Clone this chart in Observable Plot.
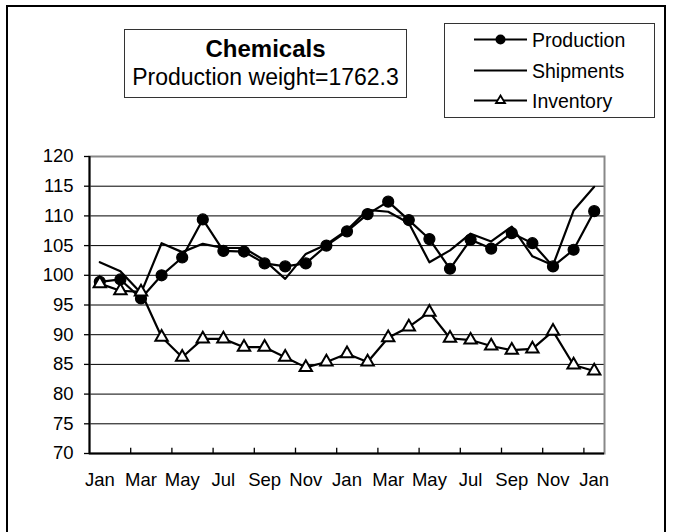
<!DOCTYPE html>
<html>
<head>
<meta charset="utf-8">
<script src="https://cdn.jsdelivr.net/npm/d3@7"></script>
<script src="https://cdn.jsdelivr.net/npm/@observablehq/plot@0.6"></script>
<style>
  body { margin: 0; background: #fff; }
  #wrap { position: relative; width: 675px; height: 532px; overflow: hidden; font-family: "Liberation Sans", Arial, sans-serif; }
  #outer { position: absolute; left: 6px; top: 5px; width: 660px; height: 560px; border: 2px solid #000; box-sizing: border-box; pointer-events: none; }
  #overlay { position: absolute; left: 0; top: 0; pointer-events: none; }
  #chart { position: absolute; left: 0; top: 0; }
</style>
</head>
<body>
<div id="wrap">
  <div id="chart"></div>
  <div id="outer"></div>
  <svg id="overlay" width="675" height="532" font-family="Liberation Sans, Arial, sans-serif">
    <rect x="124.5" y="29.5" width="282" height="68" fill="#fff" stroke="#333" stroke-width="1"></rect>
    <text x="265.5" y="57" text-anchor="middle" font-size="24" font-weight="bold">Chemicals</text>
    <text x="265.5" y="85" text-anchor="middle" font-size="23">Production weight=1762.3</text>
    <rect x="444.5" y="23.5" width="210" height="94" fill="#fff" stroke="#333" stroke-width="1"></rect>
    <line x1="474" x2="527" y1="39.5" y2="39.5" stroke="#000" stroke-width="2"></line>
    <circle cx="500.5" cy="39.5" r="5" fill="#000"></circle>
    <text x="532" y="46.5" font-size="19.5">Production</text>
    <line x1="474" x2="527" y1="70.5" y2="70.5" stroke="#000" stroke-width="2"></line>
    <text x="532" y="78" font-size="19.5">Shipments</text>
    <line x1="474" x2="527" y1="100.5" y2="100.5" stroke="#000" stroke-width="2"></line>
    <path d="M500.5,95.5 L505,103 L496,103 Z" fill="#fff" stroke="#000" stroke-width="1.8"></path>
    <text x="532" y="107.5" font-size="19.5">Inventory</text>
  </svg>
</div>
<script>
const months = ["Jan","Feb","Mar","Apr","May","Jun","Jul","Aug","Sep","Oct","Nov","Dec",
                "Jan","Feb","Mar","Apr","May","Jun","Jul","Aug","Sep","Oct","Nov","Dec","Jan"];
const production = [98.9, 99.3, 96.1, 100.0, 103.0, 109.4, 104.1, 104.0, 102.0, 101.5, 102.0, 105.0,
                    107.4, 110.3, 112.4, 109.3, 106.1, 101.1, 106.0, 104.5, 107.1, 105.4, 101.5, 104.3, 110.8];
const shipments = [102.2, 100.7, 97.0, 105.4, 103.9, 105.3, 104.6, 104.6, 102.5, 99.4, 103.6, 105.2,
                   107.6, 111.0, 110.7, 108.8, 102.2, 104.2, 107.0, 105.7, 108.2, 103.2, 101.7, 110.9, 114.9];
const inventory = [98.6, 97.4, 97.2, 89.6, 86.2, 89.3, 89.3, 87.9, 87.9, 86.2, 84.5, 85.4,
                   86.8, 85.4, 89.5, 91.3, 93.8, 89.4, 89.1, 88.1, 87.4, 87.6, 90.6, 84.9, 83.9];
const yTicks = [70, 75, 80, 85, 90, 95, 100, 105, 110, 115, 120];

const rows = months.map((m, i) => ({i, month: m, production: production[i], shipments: shipments[i], inventory: inventory[i]}));
const labelIdx = d3.range(0, months.length, 2);
const bounds = d3.range(1.5, months.length - 1, 2);

const chart = Plot.plot({
  width: 675,
  height: 532,
  marginLeft: 89,
  marginRight: 71,
  marginTop: 156,
  marginBottom: 79,
  style: { fontFamily: "Liberation Sans, Arial, sans-serif", fontSize: "18.5px", color: "#000", background: "transparent" },
  x: { type: "linear", domain: [-0.5, months.length - 0.5] },
  y: { domain: [70, 120] },
  marks: [
    Plot.ruleY(yTicks.filter(v => v > 70 && v < 120), { stroke: "#000", strokeWidth: 1 }),
    Plot.frame({ stroke: "#888", strokeWidth: 2 }),
    Plot.ruleX([-0.5], { stroke: "#000", strokeWidth: 2 }),
    Plot.ruleY([70], { stroke: "#000", strokeWidth: 2 }),
    Plot.ruleX(bounds, { x: d => d, y1: 70, y2: 70.9, stroke: "#000", strokeWidth: 1.3 }),
    Plot.axisY({ ticks: yTicks, tickSize: 5, tickPadding: 11, label: null, strokeWidth: 1.3 }),
    Plot.axisX({ ticks: labelIdx, tickFormat: i => months[i], tickSize: 0, tickPadding: 19, label: null }),
    Plot.line(rows, { x: "i", y: "production", stroke: "#000", strokeWidth: 2.2 }),
    Plot.dot(rows, { x: "i", y: "production", r: 5.5, fill: "#000", stroke: "#000", strokeWidth: 1.2 }),
    Plot.line(rows, { x: "i", y: "shipments", stroke: "#000", strokeWidth: 2.2 }),
    Plot.line(rows, { x: "i", y: "inventory", stroke: "#000", strokeWidth: 2.2 }),
    Plot.dot(rows, { x: "i", y: "inventory", symbol: "triangle", r: 4.6, fill: "#fff", stroke: "#000", strokeWidth: 2 })
  ]
});
document.getElementById("chart").appendChild(chart);
</script>
</body>
</html>
